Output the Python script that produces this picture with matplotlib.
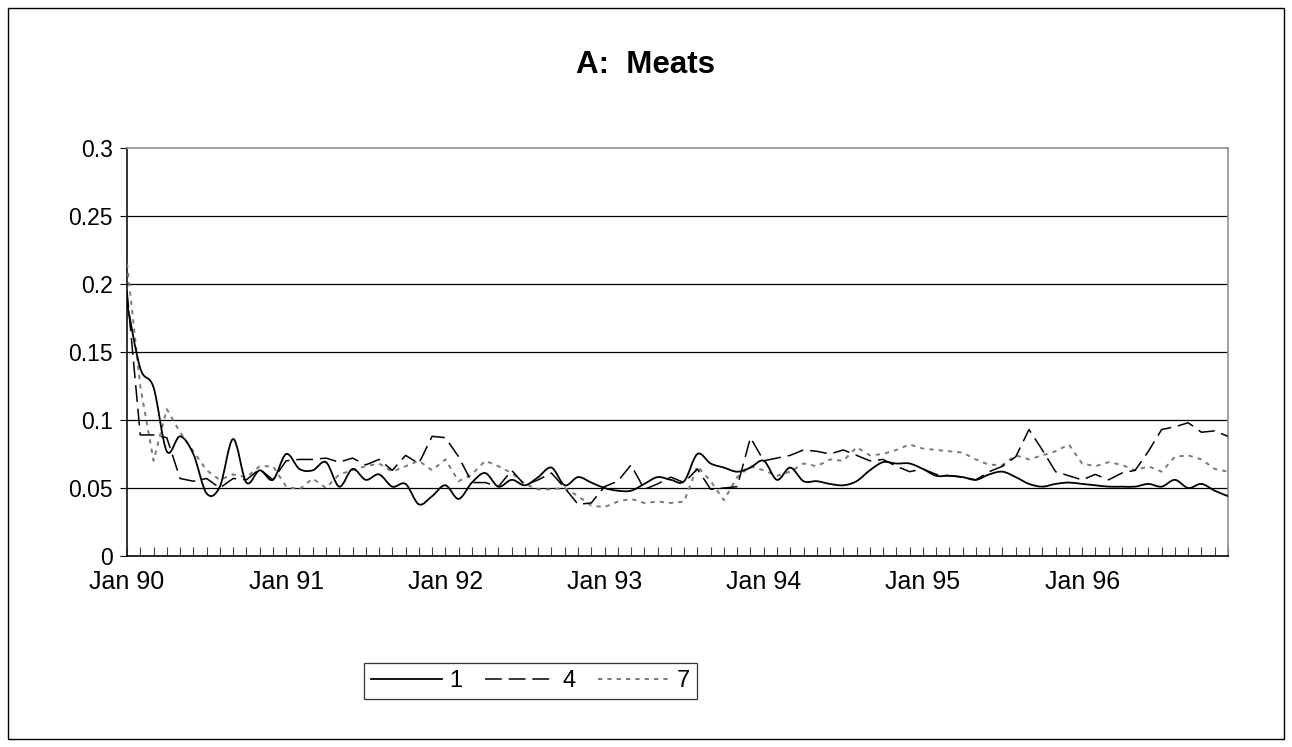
import matplotlib
matplotlib.use("Agg")
import matplotlib.pyplot as plt
from matplotlib.path import Path
from matplotlib.patches import PathPatch, Rectangle
from matplotlib.lines import Line2D
import numpy as np

plt.rcParams['font.family'] = ['Liberation Sans', 'DejaVu Sans']

# Monthly categories, Jan 1990 .. Dec 1996
months = ["Jan", "Feb", "Mar", "Apr", "May", "Jun",
          "Jul", "Aug", "Sep", "Oct", "Nov", "Dec"]
years = ["90", "91", "92", "93", "94", "95", "96"]
categories = [f"{m} {y}" for y in years for m in months]

series_names = ["1", "4", "7"]

lag1 = [0.186, 0.138, 0.124, 0.077, 0.088, 0.075, 0.046, 0.051, 0.086, 0.054, 0.063, 0.056,
        0.075, 0.064, 0.063, 0.069, 0.051, 0.064, 0.056, 0.060, 0.051, 0.053, 0.038, 0.044,
        0.052, 0.042, 0.054, 0.061, 0.051, 0.056, 0.052, 0.058, 0.065, 0.052, 0.058, 0.054,
        0.050, 0.048, 0.048, 0.053, 0.058, 0.056, 0.055, 0.075, 0.068, 0.065, 0.062, 0.065,
        0.070, 0.056, 0.065, 0.055, 0.055, 0.053, 0.052, 0.055, 0.063, 0.069, 0.068, 0.068,
        0.064, 0.059, 0.059, 0.058, 0.056, 0.060, 0.062, 0.058, 0.053, 0.051, 0.053, 0.054,
        0.053, 0.052, 0.051, 0.051, 0.051, 0.053, 0.051, 0.056, 0.050, 0.053, 0.048, 0.044]

lag4 = [0.195, 0.089, 0.089, 0.087, 0.057, 0.055, 0.057, 0.050, 0.057, 0.056, 0.064, 0.056,
        0.070, 0.071, 0.071, 0.072, 0.069, 0.072, 0.067, 0.071, 0.063, 0.074, 0.068, 0.088,
        0.087, 0.073, 0.054, 0.054, 0.051, 0.063, 0.052, 0.056, 0.061, 0.050, 0.038, 0.039,
        0.051, 0.055, 0.067, 0.049, 0.053, 0.058, 0.054, 0.064, 0.049, 0.050, 0.051, 0.087,
        0.070, 0.072, 0.074, 0.078, 0.077, 0.075, 0.078, 0.074, 0.070, 0.071, 0.066, 0.062,
        0.064, 0.060, 0.059, 0.058, 0.056, 0.062, 0.066, 0.073, 0.093, 0.078, 0.062, 0.059,
        0.056, 0.060, 0.056, 0.061, 0.063, 0.077, 0.093, 0.095, 0.098, 0.091, 0.092, 0.088]

lag7 = [0.215, 0.125, 0.070, 0.108, 0.091, 0.077, 0.063, 0.056, 0.060, 0.058, 0.066, 0.066,
        0.051, 0.049, 0.057, 0.050, 0.060, 0.063, 0.066, 0.068, 0.062, 0.066, 0.070, 0.063,
        0.071, 0.055, 0.060, 0.070, 0.066, 0.061, 0.053, 0.049, 0.049, 0.050, 0.044, 0.037,
        0.036, 0.040, 0.042, 0.039, 0.040, 0.039, 0.040, 0.066, 0.055, 0.041, 0.058, 0.066,
        0.063, 0.059, 0.062, 0.068, 0.066, 0.071, 0.070, 0.080, 0.074, 0.075, 0.078, 0.082,
        0.079, 0.078, 0.077, 0.076, 0.071, 0.067, 0.067, 0.074, 0.071, 0.074, 0.077, 0.082,
        0.068, 0.066, 0.069, 0.067, 0.063, 0.066, 0.062, 0.073, 0.074, 0.071, 0.064, 0.062]

y_ticks = [0, 0.05, 0.1, 0.15, 0.2, 0.25, 0.3]
y_tick_labels = ["0", "0.05", "0.1", "0.15", "0.2", "0.25", "0.3"]


def smooth_path(xs, ys):
    """Catmull-Rom style Bezier path through every point (spreadsheet 'smoothed line')."""
    x = np.asarray(xs, float)
    y = np.asarray(ys, float)
    n = len(x)
    verts = [(x[0], y[0])]
    codes = [Path.MOVETO]
    for i in range(n - 1):
        xa, ya = (x[i - 1], y[i - 1]) if i > 0 else (x[i], y[i])
        xb, yb = (x[i + 2], y[i + 2]) if i + 2 < n else (x[i + 1], y[i + 1])
        c1 = (x[i] + (x[i + 1] - xa) / 6.0, y[i] + (y[i + 1] - ya) / 6.0)
        c2 = (x[i + 1] - (xb - x[i]) / 6.0, y[i + 1] - (yb - y[i]) / 6.0)
        verts += [c1, c2, (x[i + 1], y[i + 1])]
        codes += [Path.CURVE4] * 3
    return Path(verts, codes)


W, H = 1292, 747
fig = plt.figure(figsize=(W / 100, H / 100), dpi=100)
fig.patch.set_facecolor("white")

left, right, top, bottom = 127, 1228, 148, 556
ax = fig.add_axes([left / W, 1 - bottom / H, (right - left) / W, (bottom - top) / H])

xs = np.arange(len(categories))

style1 = dict(color="black", lw=1.3, linestyle="-")
style4 = dict(color="black", lw=1.1, linestyle=(0, (11, 4.5)))
style7 = dict(color="#7a7a7a", lw=1.4, linestyle=(0, (2.2, 2.6)))

ax.plot(xs, lag7, **style7, zorder=3)
ax.plot(xs, lag4, **style4, zorder=4)
ax.add_patch(PathPatch(smooth_path(xs, lag1), fill=False, edgecolor="black",
                       lw=1.3, zorder=5, capstyle="round", joinstyle="round"))

ax.set_xlim(0, len(categories) - 1)
ax.set_ylim(0, 0.3)

# gridlines (top one is covered by the plot border)
for yv in y_ticks[1:-1]:
    ax.axhline(yv, color="black", lw=0.9, zorder=1)

ax.set_yticks(y_ticks)
ax.set_yticklabels(y_tick_labels)
ax.set_xticks(xs)
ax.set_xticklabels([c if c.startswith("Jan") else "" for c in categories])

ax.tick_params(axis="y", direction="out", length=5, width=0.8, color="black",
               labelsize=16.5, pad=5)
ax.tick_params(axis="x", direction="in", length=6.5, width=0.8, color="#444444",
               labelsize=18, pad=10)

for s in ["top", "right"]:
    ax.spines[s].set_color("#909090")
    ax.spines[s].set_linewidth(1.2)
ax.spines["left"].set_color("#222222")
ax.spines["left"].set_linewidth(1.3)
ax.spines["bottom"].set_color("black")
ax.spines["bottom"].set_linewidth(1.2)

fig.text(0.5, 1 - 65 / H, "A:  Meats", ha="center", va="center",
         fontsize=22.5, fontweight="bold")

handles = [Line2D([], [], **style1), Line2D([], [], **style4), Line2D([], [], **style7)]
leg = fig.legend(handles, series_names, loc="center",
                 bbox_to_anchor=((364 + 697) / 2 / W, 1 - 681 / H),
                 ncol=3, fontsize=17, frameon=True, fancybox=False,
                 edgecolor="black", handlelength=3.0, handletextpad=0.3,
                 columnspacing=0.95, borderpad=0.3, borderaxespad=0)
leg.get_frame().set_linewidth(0.9)

fig.patches.append(Rectangle((8 / W, 1 - 739 / H), (1284 - 8) / W, (739 - 8) / H,
                             transform=fig.transFigure, fill=False,
                             edgecolor="black", lw=1.0))

fig.savefig("out.png", dpi=100)
